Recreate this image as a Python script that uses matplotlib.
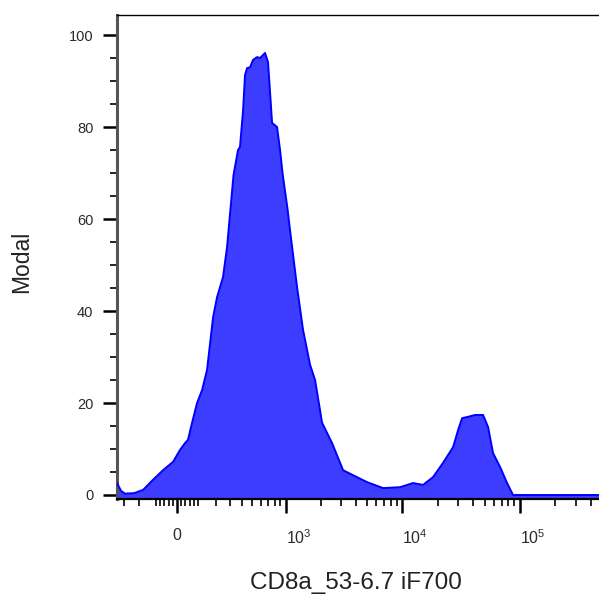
import numpy as np
import matplotlib
matplotlib.use("Agg")
import matplotlib.pyplot as plt
from matplotlib.ticker import FixedLocator, FixedFormatter, MultipleLocator

plt.rcParams['font.family'] = ['Liberation Sans', 'DejaVu Sans']
plt.rcParams['mathtext.fontset'] = 'custom'
plt.rcParams['mathtext.rm'] = 'Liberation Sans'
plt.rcParams['mathtext.it'] = 'Liberation Sans'

# ---- data ----
fluor = [-354, -321, -291, -228, -173, -118, -67, -19, 14, 38, 52, 72, 97,
         123, 150, 185, 209, 248, 276, 325, 362, 379, 407, 425, 445, 475,
         508, 554, 590, 655, 697, 758, 839, 892, 940, 1040, 1092, 1256,
         1415, 1627, 1796, 2063, 2511, 3119, 3796, 4996, 6840, 9544, 12315,
         14990, 18244, 22196, 26992, 29788, 32222, 36246, 41573, 48610,
         53623, 59141, 67842, 77843, 87531, 100376, 150000, 250000, 480000]
modal = [2.6, 0.9, 0.3, 0.4, 1.1, 3.3, 5.4, 7.2, 9.8, 11.3, 12.0, 15.7, 20.0,
         22.8, 27.2, 38.7, 43.0, 47.4, 53.9, 69.6, 75.0, 75.7, 83.7, 91.3,
         92.8, 93.0, 94.6, 95.2, 95.0, 96.1, 94.1, 80.9, 80.0, 75.0, 69.8,
         62.0, 57.5, 45.2, 35.9, 28.3, 25.0, 15.7, 11.3, 5.4, 4.3, 2.8, 1.5,
         1.7, 2.6, 2.2, 3.9, 7.0, 10.4, 14.1, 16.7, 17.0, 17.4, 17.4, 14.8,
         9.1, 6.1, 2.6, 0.0, 0.0, 0.0, 0.0, 0.0]

x_major = [0, 1e3, 1e4, 1e5]
x_major_labels = ['0', '$10^3$', '$10^4$', '$10^5$']
x_minor = [-300, -200, -100, -80, -60, -40, -20, 20, 40, 60, 80,
           100, 200, 300, 400, 500, 600, 700, 800, 900,
           2000, 3000, 4000, 5000, 6000, 7000, 8000, 9000,
           20000, 30000, 40000, 50000, 60000, 70000, 80000, 90000,
           200000, 300000, 400000]
y_major = [0, 20, 40, 60, 80, 100]

x_label = 'CD8a_53-6.7 iF700'
y_label = 'Modal'

# ---- biexponential-like axis ----
W = 241.0
def fwd(x):
    return np.arcsinh(np.asarray(x, dtype=float) / W)
def inv(y):
    return W * np.sinh(np.asarray(y, dtype=float))

fig = plt.figure(figsize=(5.99, 5.99), dpi=100)
ax = fig.add_axes([117/599, 1 - 499/599, (599 - 117)/599, (499 - 15)/599])
ax.set_xscale('function', functions=(fwd, inv))
ax.set_xlim(-354, 472000)
ax.set_ylim(-0.87, 104.35)

ax.fill_between(fluor, modal, -0.87, facecolor='#3d3dff', edgecolor='none', zorder=2)
ax.plot(fluor, modal, color='#0000ff', lw=1.4, zorder=3)

ax.xaxis.set_major_locator(FixedLocator(x_major))
ax.xaxis.set_major_formatter(FixedFormatter(x_major_labels))
ax.xaxis.set_minor_locator(FixedLocator(x_minor))
ax.yaxis.set_major_locator(FixedLocator(y_major))
ax.yaxis.set_minor_locator(MultipleLocator(5))

ax.tick_params(axis='both', which='major', length=10, width=1.8, color='black',
               labelcolor='#2a2a2a')
ax.tick_params(axis='both', which='minor', length=5, width=1.2, color='black')
ax.tick_params(axis='x', which='major', pad=11, labelsize=11.5)
ax.tick_params(axis='y', which='major', pad=7, labelsize=10.5)

for lbl in ax.get_xticklabels():
    if lbl.get_text() != '0':
        lbl.set_horizontalalignment('left')

for side in ['left', 'bottom', 'top']:
    ax.spines[side].set_color('black')
ax.spines['left'].set_color('#555555')
ax.spines['left'].set_linewidth(2.2)
ax.spines['bottom'].set_linewidth(1.6)
ax.spines['top'].set_linewidth(1.0)
ax.spines['right'].set_visible(False)

fig.text(356/599, 1 - 583/599, x_label, ha='center', va='center',
         fontsize=17.5, color='#222222')
fig.text(22/599, 1 - 262/599, y_label, ha='center', va='center',
         rotation=90, fontsize=16.5, color='#222222')

fig.savefig('out.png', dpi=100)
